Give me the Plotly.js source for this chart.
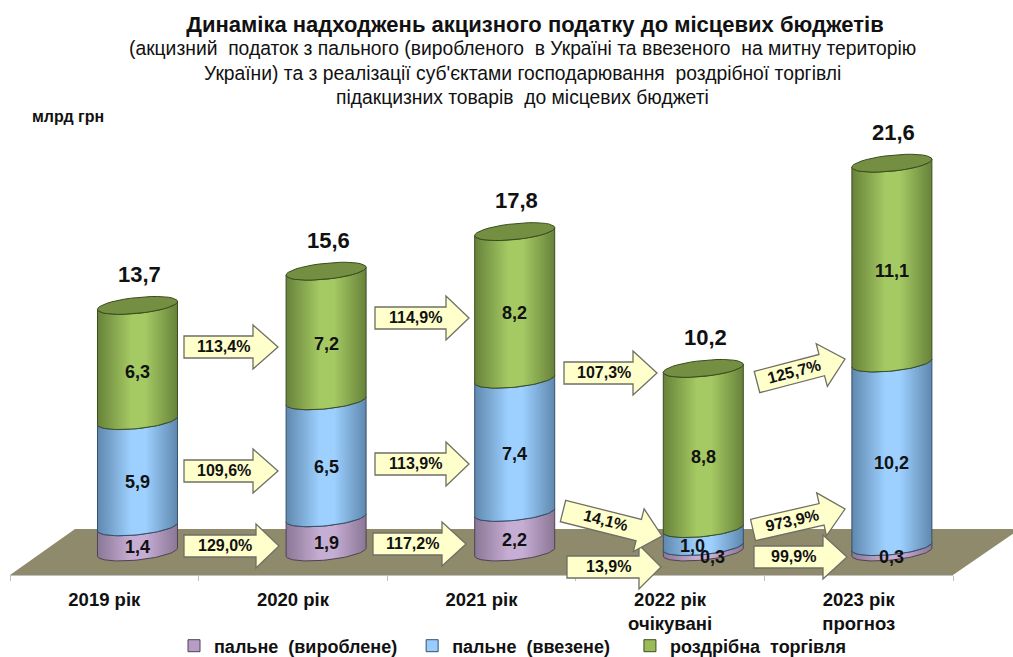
<!DOCTYPE html>
<html>
<head>
<meta charset="utf-8">
<script src="https://cdn.plot.ly/plotly-3.0.1.min.js"></script>
<style>html,body{margin:0;padding:0;background:#fff;overflow:hidden}</style>
</head>
<body>
<div id="chart" style="width:1013px;height:657px"></div>
<script>
// ---- data ----
const categories = ["2019 рік", "2020 рік", "2021 рік", "2022 рік<br>очікувані", "2023 рік<br>прогноз"];
const seriesNames = ["пальне  (вироблене)\u00A0\u00A0", "пальне  (ввезене)\u00A0\u00A0\u00A0", "роздрібна  торгівля"];
const fuelProduced = [1.4, 1.9, 2.2, 0.3, 0.3];
const fuelImported = [5.9, 6.5, 7.4, 1.0, 10.2];
const retailTrade = [6.3, 7.2, 8.2, 8.8, 11.1];
const totals = [13.7, 15.6, 17.8, 10.2, 21.6];
const growthLabels = ["129,0%", "109,6%", "113,4%", "117,2%", "113,9%", "114,9%", "13,9%", "14,1%", "107,3%", "99,9%", "973,9%", "125,7%"];
const subtitleLines = [
  "(акцизний  податок з пального (виробленого  в Україні та ввезеного  на митну територію",
  "України) та з реалізації суб'єктами господарювання  роздрібної торгівлі",
  "підакцизних товарів  до місцевих бюджеті"
];

// ---- layout geometry (pixels of the page) ----
const W = 1013, H = 657, L = 10, R = 953, T = 130, B = 575, BASE = 552, PXU = 18;
const px2x = p => (p - L) / (R - L), px2y = p => (B - p) / (B - T);
const bandPx = (R - L) / 5;
const CYL_OFFSET = 0.176, HALF_W = 40 / bandPx, ELL_B = 8 / PXU, ELL_TILT = 4 / PXU;
// tail x, tail y, tip x, tip y, head length
const arrowGeom = [
  [184,546,279,546,23], [184,471,278,471,25], [184,347,278,347,25],
  [373,544,466,544,24], [375,464,469,464,23], [375,318,469,318,23],
  [567,567,661,567,22], [563,511,662,536,24], [564,373,657,373,24],
  [754,557,847,557,24], [753,530,845,509,24], [757,382,845,359,24]
];
const colors = [
  {mid:"#C6ADD3", edge:"#8B7796", line:"#4f4256", flat:"#B79CC6"},
  {mid:"#9DD0FF", edge:"#5F88AE", line:"#34506b", flat:"#99CCFF"},
  {mid:"#A5C963", edge:"#67823A", line:"#3a4d20", flat:"#9BBB59"}
];
const series = [fuelProduced, fuelImported, retailTrade];
const fmt = v => v.toFixed(1).replace(".", ",");

function arc(cx, v, from, to) {           // front half of the ring at level v
  const xs = [], ys = [], n = 36;
  for (let i = 0; i <= n; i++) {
    const t = from + (to - from) * i / n;
    xs.push(cx + HALF_W * Math.cos(t));
    ys.push(v - ELL_B * Math.sin(t) + ELL_TILT * Math.cos(t));
  }
  return [xs, ys];
}

const traces = [];
series.forEach((vals, s) => traces.push({
  type: "bar", name: seriesNames[s], x: categories, y: vals,
  width: 0.3, offset: CYL_OFFSET - 0.15,
  marker: {color: colors[s].flat, line: {color: colors[s].line, width: 1}},
  hoverinfo: "skip"
}));

categories.forEach((c, i) => {
  let base = 0;
  const cx = i + CYL_OFFSET;
  series.forEach((vals, s) => {
    // the last band closes at the stated total (the parts are rounded)
    const top = s === series.length - 1 ? totals[i] : base + vals[i];
    const low = arc(cx, base, Math.PI, 0);
    const up = arc(cx, top, 0, Math.PI);
    traces.push({
      type: "scatter", mode: "lines", xaxis: "x2", yaxis: "y", showlegend: false, hoverinfo: "skip",
      x: low[0].concat(up[0]).concat([low[0][0]]),
      y: low[1].concat(up[1]).concat([low[1][0]]),
      fill: "toself",
      fillgradient: {type: "horizontal", colorscale: [[0, colors[s].edge], [0.42, colors[s].mid], [0.6, colors[s].mid], [1, colors[s].edge]]},
      line: {color: colors[s].line, width: 1}
    });
    base = top;
  });
  const a = arc(cx, base, 0, 2 * Math.PI);
  traces.push({
    type: "scatter", mode: "lines", xaxis: "x2", yaxis: "y", showlegend: false, hoverinfo: "skip",
    x: a[0], y: a[1], fill: "toself", fillcolor: "#748F41",
    line: {color: "#3a4d20", width: 1}
  });
});

const shapes = [{
  type: "path", xref: "paper", yref: "paper", layer: "below",
  path: "M" + px2x(10) + "," + px2y(575) + " L" + px2x(75) + "," + px2y(529) + " L" + px2x(1020) + "," + px2y(529) + " L" + px2x(953) + "," + px2y(575) + " Z",
  fillcolor: "#8F8A6C", line: {width: 0}
}];
const annotations = [];
arrowGeom.forEach((g, k) => {
  const [x0, y0, x1, y1, head] = g;
  const len = Math.hypot(x1 - x0, y1 - y0), ux = (x1 - x0) / len, uy = (y1 - y0) / len, nx = -uy, ny = ux;
  const bh = 11, hh = 22;
  const bx = len - head;
  const P = (a, n) => [x0 + ux * a + nx * n, y0 + uy * a + ny * n];
  const pts = [P(0, -bh), P(bx, -bh), P(bx, -hh), P(len, 0), P(bx, hh), P(bx, bh), P(0, bh)];
  shapes.push({
    type: "path", xref: "paper", yref: "paper", layer: "above",
    path: pts.map((p, j) => (j ? "L" : "M") + px2x(p[0]) + "," + px2y(p[1])).join(" ") + " Z",
    fillcolor: "#FFFFCC", line: {color: "#6f6f66", width: 1.3}
  });
  const tc = P(bx * 0.5 + 5, -1);
  annotations.push({
    xref: "paper", yref: "paper", x: px2x(tc[0]), y: px2y(tc[1]), showarrow: false,
    xanchor: "center", yanchor: "middle",
    text: "<b>" + growthLabels[k] + "</b>", textangle: Math.atan2(y1 - y0, x1 - x0) * 180 / Math.PI,
    font: {family: "Liberation Sans", size: 16, color: "#111"}
  });
});

categories.forEach((c, i) => {
  let base = 0;
  const cx = i + CYL_OFFSET;
  series.forEach((vals, s) => {
    const mid = base + vals[i] / 2;
    let xshift = 0;
    if (i === 3 && s === 0) xshift = 9;
    if (i === 3 && s === 1) xshift = -11;
    annotations.push({
      xref: "x2", yref: "y", x: cx, y: mid, showarrow: false, xshift: xshift, yshift: -8,
      xanchor: "center", yanchor: "middle",
      text: "<b>" + fmt(vals[i]) + "</b>",
      font: {family: "Liberation Sans", size: 18, color: "#111"}
    });
    base += vals[i];
  });
  annotations.push({
    xref: "x2", yref: "y", x: cx, y: totals[i], showarrow: false, yshift: 31, xshift: 2,
    xanchor: "center", yanchor: "middle",
    text: "<b>" + fmt(totals[i]) + "</b>",
    font: {family: "Liberation Sans", size: 22, color: "#111"}
  });
});

subtitleLines.forEach((line, k) => annotations.push({
  xref: "paper", yref: "paper", x: px2x(522), y: px2y(49 + k * 24.3), xanchor: "center", yanchor: "middle", showarrow: false,
  text: line, font: {family: "Liberation Sans", size: 19.3, color: "#111"}
}));
annotations.push({
  xref: "paper", yref: "paper", x: px2x(30), xanchor: "left", y: px2y(116), yanchor: "middle", showarrow: false,
  text: "<b>млрд грн</b>", font: {family: "Liberation Sans", size: 16, color: "#111"}
});

const layout = {
  width: W, height: H, paper_bgcolor: "#fff", plot_bgcolor: "rgba(0,0,0,0)",
  margin: {l: L, r: W - R, t: T, b: H - B, pad: 0},
  barmode: "stack", hovermode: false, dragmode: false,
  title: {text: "<b>Динаміка надходжень акцизного податку до місцевих бюджетів</b>", x: 535 / W, xanchor: "center", y: 1 - 24 / H, yanchor: "middle",
          font: {family: "Liberation Sans", size: 22, color: "#111"}},
  xaxis: {
    type: "category", categoryorder: "array", categoryarray: categories, range: [-0.5, 4.5],
    tickson: "boundaries", ticks: "outside", ticklen: 5, tickcolor: "#bfbfbf", tickwidth: 1,
    showline: true, linecolor: "#bfbfbf", linewidth: 1, showgrid: false, zeroline: false,
    tickfont: {family: "Liberation Sans", size: 18.5, color: "#111", weight: "bold"},
    ticklabelstandoff: 8
  },
  xaxis2: {overlaying: "x", range: [-0.5, 4.5], visible: false, fixedrange: true},
  yaxis: {range: [(BASE - B) / PXU, (BASE - T) / PXU], visible: false, fixedrange: true},
  legend: {
    orientation: "h", xref: "container", yref: "container",
    x: 174 / W, xanchor: "left", y: (H - 646) / H, yanchor: "middle", traceorder: "normal",
    font: {family: "Liberation Sans", size: 18, color: "#111", weight: "bold"},
    bgcolor: "rgba(0,0,0,0)", itemwidth: 30
  },
  showlegend: true, shapes: shapes, annotations: annotations
};
Plotly.newPlot("chart", traces, layout, {displayModeBar: false, staticPlot: true});
</script>
</body>
</html>
